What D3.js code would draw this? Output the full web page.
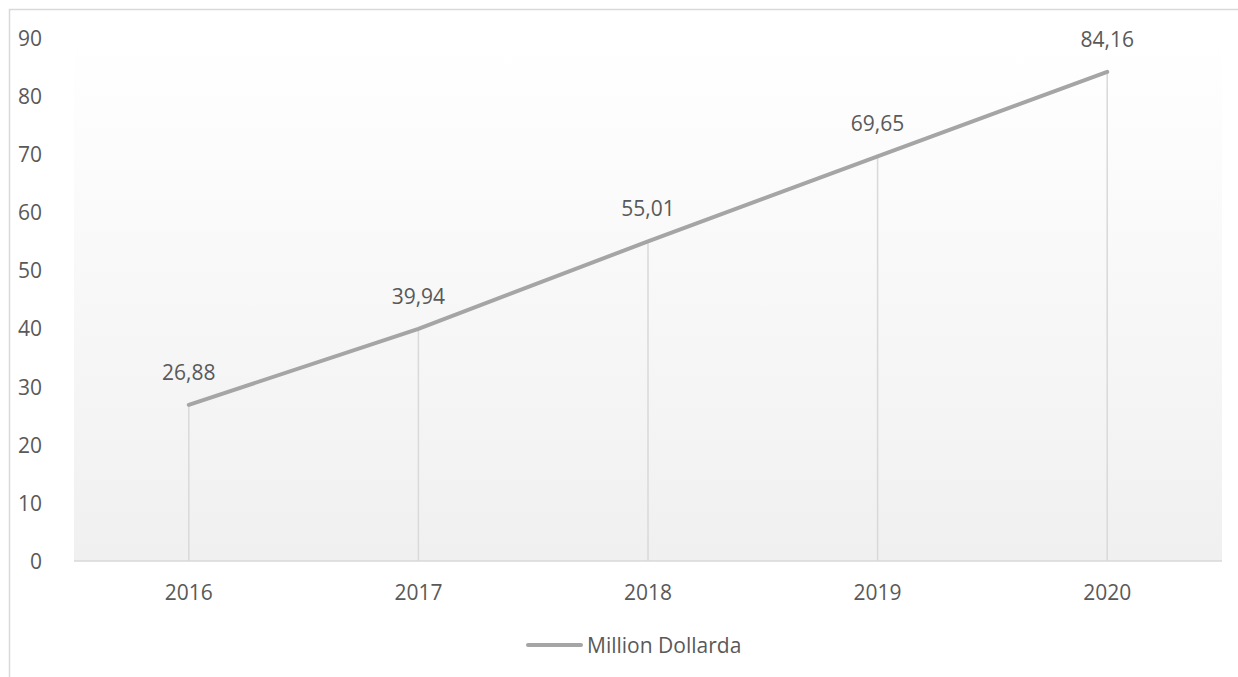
<!DOCTYPE html>
<html><head><meta charset="utf-8">
<script src="https://cdn.jsdelivr.net/npm/d3@7"></script>
<style>body{margin:0;background:#fff;} svg{display:block;} text{font-family:"Open Sans",sans-serif;}</style>
</head><body>
<svg id="c" width="1238" height="677"></svg>
<script>
const years = ["2016","2017","2018","2019","2020"];
const values = [26.88, 39.94, 55.01, 69.65, 84.16];
const valueLabels = ["26,88","39,94","55,01","69,65","84,16"];
const yTicks = [0,10,20,30,40,50,60,70,80,90];
const seriesName = "Million Dollarda";

(function(){
const svg = d3.select("#c");
const pL = 74, pR = 1222, pT = 38, pB = 561;
const fs = 21;
const x = d3.scaleBand().domain(years).range([pL, pR]);
const y = d3.scaleLinear().domain([0, 90]).range([pB, pT]);

svg.append("path").attr("d", `M9.5,677 V9.5 H1238`).attr("fill","none").attr("stroke","#d9d9d9").attr("stroke-width",1.5);

const defs = svg.append("defs");
const g = defs.append("linearGradient").attr("id","bg").attr("x1",0).attr("y1",0).attr("x2",0).attr("y2",1);
g.append("stop").attr("offset","0%").attr("stop-color","#ffffff");
g.append("stop").attr("offset","100%").attr("stop-color","#f0f0f0");
svg.append("rect").attr("x",pL).attr("y",pT).attr("width",pR-pL).attr("height",pB-pT).attr("fill","url(#bg)");

svg.selectAll(".drop").data(values).join("line")
  .attr("x1",(d,i)=>x(years[i])+x.bandwidth()/2).attr("x2",(d,i)=>x(years[i])+x.bandwidth()/2)
  .attr("y1",d=>y(d)).attr("y2",y(0)).attr("stroke","#d9d9d9").attr("stroke-width",1.5);

svg.append("line").attr("x1",pL).attr("x2",pR).attr("y1",y(0)).attr("y2",y(0)).attr("stroke","#d9d9d9").attr("stroke-width",1.5);

const ya = svg.append("g").attr("transform",`translate(${pL},0)`).call(d3.axisLeft(y).tickValues(yTicks).tickSize(0).tickPadding(32));
ya.select(".domain").remove();
ya.selectAll("text").attr("font-size",fs).attr("fill","#595959").attr("font-family","Open Sans").attr("dy","0.35em");

const xa = svg.append("g").attr("transform",`translate(0,${pB})`).call(d3.axisBottom(x).tickSize(0).tickPadding(24));
xa.select(".domain").remove();
xa.selectAll("text").attr("font-size",fs).attr("fill","#595959").attr("font-family","Open Sans");

const line = d3.line().x((d,i)=>x(years[i])+x.bandwidth()/2).y(d=>y(d));
svg.append("path").datum(values).attr("d",line).attr("fill","none").attr("stroke","#a5a5a5").attr("stroke-width",4).attr("stroke-linecap","round");

svg.selectAll(".lbl").data(values).join("text")
  .attr("x",(d,i)=>x(years[i])+x.bandwidth()/2).attr("y",d=>y(d)-25)
  .attr("text-anchor","middle").attr("font-size",fs).attr("fill","#595959")
  .text((d,i)=>valueLabels[i]);

svg.append("line").attr("x1",528).attr("x2",581).attr("y1",645).attr("y2",645).attr("stroke","#a5a5a5").attr("stroke-width",4).attr("stroke-linecap","round");
svg.append("text").attr("x",587).attr("y",646).attr("dy","0.35em").attr("font-size",fs).attr("fill","#595959").text(seriesName);
})();
</script>
</body></html>
